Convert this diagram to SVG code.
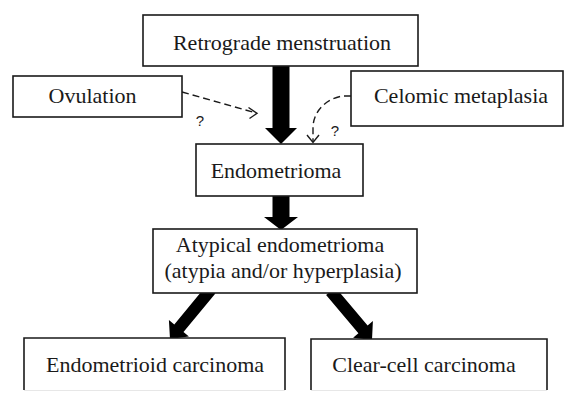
<svg xmlns="http://www.w3.org/2000/svg" width="578" height="406" viewBox="0 0 578 406">
<defs>
<style>
.box{fill:#fff;stroke:#1a1a1a;stroke-width:1.6}
.t{font-family:"Liberation Serif","Times New Roman",serif;font-size:22px;fill:#1a1a1a;text-anchor:middle}
.q{font-family:"Liberation Sans",Arial,sans-serif;font-size:15px;fill:#1a1a1a;text-anchor:middle}
.dash{fill:none;stroke:#1a1a1a;stroke-width:1.4;stroke-dasharray:7 4}
.chev{fill:none;stroke:#1a1a1a;stroke-width:1.4}
.thick{fill:#000}
.cut{stroke:#cfcfcf;stroke-width:1.2}
</style>
</defs>
<rect width="578" height="406" fill="#fff"/>
<g id="connectors">
<polygon class="thick" points="272.5,60 289.5,60 289.5,128 297,128 281,144 265,128 272.5,128"/>
<polygon class="thick" points="272.5,190 289.5,190 289.5,217 298,217 281,230 264,217 272.5,217"/>
<polygon class="thick" points="206.2,285.8 215.4,293.4 183.5,332 188.9,336.5 170,339 168.9,319.9 174.3,324.4"/>
<polygon class="thick" points="335.3,287.2 367.6,325.4 372.9,320.9 372,340 353.1,337.7 358.4,333.2 326.1,295"/>
<path class="dash" d="M182,92 L256,113"/>
<path class="chev" d="M248.5,107.5 L257,113.3 L249.5,118.5"/>
<path class="dash" d="M351,96 L343,96 C328,98 313,110 313,128 L313,142"/>
<path class="chev" d="M307,135 L313,142.5 L319,135"/>
<text class="q" x="200" y="126">?</text>
<text class="q" x="335" y="136">?</text>
</g>
<g id="retrograde">
<rect class="box" x="143" y="15" width="275" height="51"/>
<text class="t" x="282" y="50">Retrograde menstruation</text>
</g>
<g id="ovulation">
<rect class="box" x="13" y="76" width="169" height="41"/>
<text class="t" x="92.5" y="103">Ovulation</text>
</g>
<g id="celomic">
<rect class="box" x="351" y="71" width="212" height="55"/>
<text class="t" x="461" y="103">Celomic metaplasia</text>
</g>
<g id="endometrioma">
<rect class="box" x="196" y="144" width="167" height="52"/>
<text class="t" x="276" y="178">Endometrioma</text>
</g>
<g id="atypical">
<rect class="box" x="153" y="229" width="264" height="64"/>
<text class="t" x="280" y="252">Atypical endometrioma</text>
<text class="t" x="283" y="278">(atypia and/or hyperplasia)</text>
</g>
<g id="endometrioid">
<rect x="24" y="338" width="261" height="52" fill="#fff"/>
<line class="cut" x1="24" y1="390" x2="285" y2="390"/>
<path class="box" d="M24,390 L24,338 L285,338 L285,390" fill="none"/>
<text class="t" x="155" y="372">Endometrioid carcinoma</text>
</g>
<g id="clearcell">
<rect x="311" y="339" width="236" height="51" fill="#fff"/>
<line class="cut" x1="311" y1="390" x2="547" y2="390"/>
<path class="box" d="M311,390 L311,339 L547,339 L547,390" fill="none"/>
<text class="t" x="424" y="372">Clear-cell carcinoma</text>
</g>
</svg>
